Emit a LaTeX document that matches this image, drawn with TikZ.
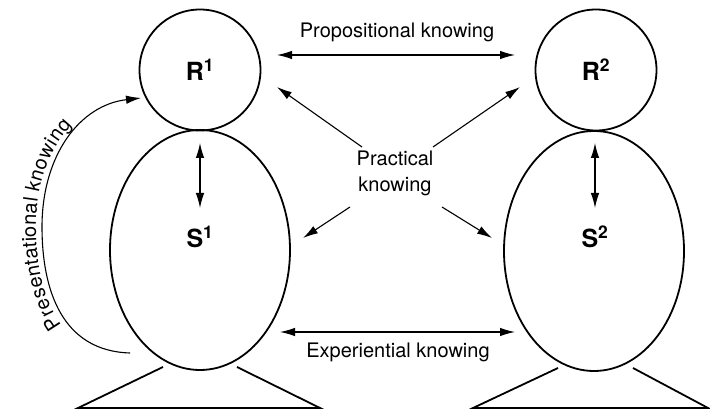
\documentclass[tikz,border=0pt]{standalone}
\usepackage{fontspec}
\setmainfont{TeX Gyre Heros}
\usetikzlibrary{arrows.meta,decorations.text,shapes.geometric}
\begin{document}
\begin{tikzpicture}[x=1pt,y=-1pt,
 body/.style={draw, line width=1.8pt, inner sep=0pt},
 headbox/.style={body, circle, minimum size=121pt},
 trunk/.style={body, ellipse, minimum width=180pt, minimum height=240pt},
 lbl/.style={font=\fontsize{25}{30}\selectfont\bfseries, inner sep=0pt},
 txt/.style={font=\fontsize{20}{26}\selectfont, align=center, inner sep=0pt},
 tip/.style={Latex[length=15pt,width=8.5pt]},
 arr/.style={line width=1.1pt, -{Latex[length=15pt,width=8.5pt]}},
 dbl/.style={line width=1.1pt, {Latex[length=15pt,width=8.5pt]}-{Latex[length=15pt,width=8.5pt]}},
 base/.style={line width=1.8pt, line join=miter}]
\fill[white] (0,0) rectangle (710,411);
\useasboundingbox (0,0) rectangle (710,411);

% bodies
\node[headbox] (R1) at (200,70) {};
\node[trunk] (S1) at (200,250) {};
\node[headbox] (R2) at (596,70) {};
\node[trunk] (S2) at (594,251) {};

\node[lbl] (r1l) at (200,70) {R\textsuperscript{1}};
\node[lbl] (s1l) at (200,237) {S\textsuperscript{1}};
\node[lbl] (r2l) at (596,70) {R\textsuperscript{2}};
\node[lbl] (s2l) at (595,237) {S\textsuperscript{2}};

% stands
\draw[base] (163,367) -- (78,408) -- (320,408) -- (237,367);
\draw[base] (558,368) -- (473,408) -- (708,408) -- (633,368);

% labels
\node[txt] (prop) at (397,32) {Propositional knowing};
\node[txt] (prac) at (395,173) {Practical\\knowing};
\node[txt] (expe) at (398,352) {Experiential knowing};

% propositional
\coordinate (p1) at (277,55);
\coordinate (p2) at (515,55);
\draw[dbl] (p1) -- (p2);

% experiential
\coordinate (e1) at (280,332);
\coordinate (e2) at (515,332);
\draw[dbl] (e1) -- (e2);

% R-S internal
\coordinate (v1a) at (200,143);
\coordinate (v1b) at (200,208);
\draw[dbl] (v1a) -- (v1b);
\coordinate (v2a) at (595,143);
\coordinate (v2b) at (595,208);
\draw[dbl] (v2a) -- (v2b);

% practical
\coordinate (q1) at (362,147);
\coordinate (t1) at (277,87);
\coordinate (q2) at (433,147);
\coordinate (t2) at (520,87);
\coordinate (q3) at (350,207);
\coordinate (t3) at (303,238);
\coordinate (q4) at (442,207);
\coordinate (t4) at (492,238);
\draw[arr] (q1) -- (t1);
\draw[arr] (q2) -- (t2);
\draw[arr] (q3) -- (t3);
\draw[arr] (q4) -- (t4);

% presentational
\coordinate (c0) at (130,353);
\coordinate (c1) at (42,227);
\coordinate (c2) at (141,98);
\draw[arr] (c0) .. controls (62,351) and (42,290) .. (c1) .. controls (42,155) and (80,105) .. (c2);
\path[decorate, decoration={text along path, text align=center, raise=6pt,
  text={|\fontsize{20}{24}\selectfont|Presentational knowing}}]
  (c0) .. controls (62,351) and (42,290) .. (c1) .. controls (42,155) and (80,105) .. (c2);
\end{tikzpicture}
\end{document}
